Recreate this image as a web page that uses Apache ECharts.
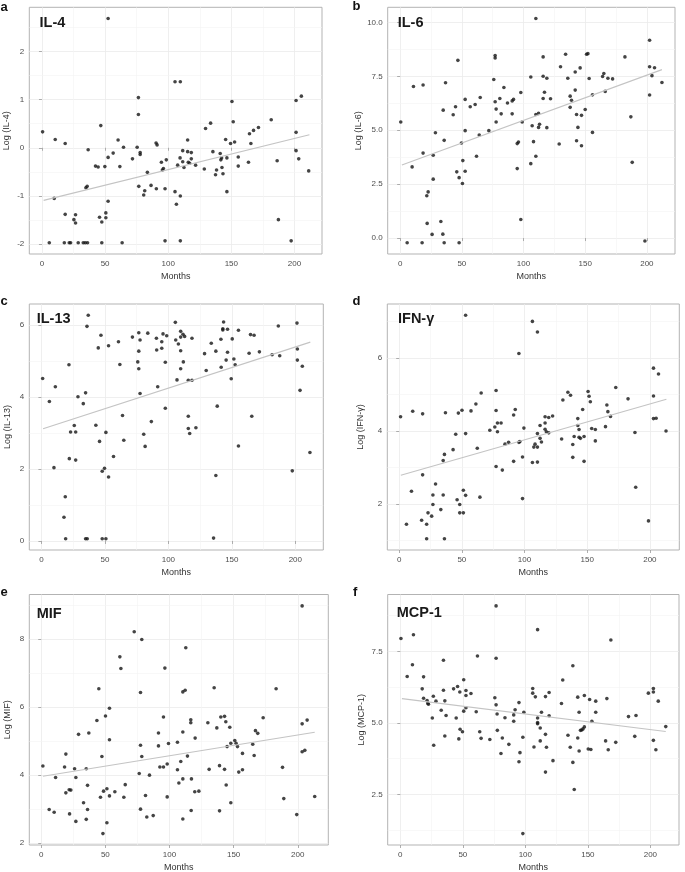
<!DOCTYPE html>
<html><head><meta charset="utf-8">
<script src="https://cdn.jsdelivr.net/npm/echarts@6/dist/echarts.min.js"></script>
<style>html,body{margin:0;padding:0;background:#fff}#c{width:685px;height:872px}</style>
</head><body><div id="c"></div>
<script>
// ---------- data: [months, log value] ----------
const il4Points = [[52.4,2.68],[0.5,0.33],[10.5,0.17],[18.4,0.09],[9.7,-1.05],[5.8,-1.97],[17.7,-1.97],[21.6,-1.97],[22.7,-1.97],[28.7,-1.97],[32.7,-1.97],[34.3,-1.97],[36.1,-1.97],[47.4,-1.97],[63.5,-1.97],[18.4,-1.38],[26.6,-1.39],[25.3,-1.49],[26.6,-1.56],[34.8,-0.83],[35.8,-0.80],[36.6,-0.04],[42.4,-0.38],[44.5,-0.40],[46.6,0.46],[45.6,-1.44],[47.4,-1.54],[50.6,-1.35],[50.6,-1.45],[52.4,-1.11],[49.8,-0.39],[52.4,-0.20],[56.4,-0.11],[60.3,0.16],[61.7,-0.39],[64.6,0.01],[71.7,-0.23],[75.4,0.01],[76.4,1.04],[76.4,0.69],[76.7,-0.80],[77.8,-0.10],[77.8,-0.14],[81.4,-0.89],[80.6,-0.98],[83.5,-0.51],[86.4,-0.78],[90.4,0.10],[91.2,0.06],[90.6,-0.85],[94.6,-0.30],[95.4,-0.46],[96.2,-0.43],[97.5,-0.85],[98.5,-0.25],[97.5,-1.93],[105.4,1.37],[109.6,1.37],[105.4,-0.91],[106.5,-1.17],[109.6,-1.00],[109.6,-1.93],[107.5,-0.36],[109.4,-0.21],[111.5,-0.06],[111.5,-0.29],[112.5,-0.41],[115.4,0.16],[115.4,-0.08],[115.9,-0.30],[117.0,-0.32],[118.3,-0.10],[118.3,-0.23],[121.7,-0.36],[128.6,-0.44],[129.6,0.40],[133.6,0.51],[135.4,-0.08],[137.5,-0.56],[138.3,-0.46],[141.2,-0.12],[141.7,-0.25],[142.3,-0.21],[142.6,-0.41],[143.4,-0.54],[145.5,0.17],[146.5,-0.21],[146.5,-0.91],[149.4,0.09],[150.5,0.96],[151.5,0.54],[152.6,0.12],[155.5,-0.19],[155.5,-0.38],[163.6,-0.30],[164.4,0.29],[165.5,0.09],[167.6,0.36],[171.5,0.42],[181.6,0.58],[186.3,-0.27],[187.3,-1.49],[197.4,-1.93],[201.3,0.98],[201.3,0.32],[201.3,-0.06],[203.4,-0.23],[205.5,1.07],[211.3,-0.48]];

const il6Points = [[0.5,5.38],[5.7,-0.22],[9.7,3.30],[10.8,7.03],[17.8,-0.22],[18.6,7.10],[18.6,3.94],[21.6,1.96],[22.7,2.14],[21.9,0.68],[25.9,0.17],[26.8,2.73],[26.8,3.84],[28.6,4.88],[33.0,0.77],[34.6,0.18],[35.7,-0.22],[34.9,5.93],[35.7,4.53],[36.8,7.20],[43.0,5.72],[44.9,6.09],[45.9,3.07],[46.8,8.24],[47.8,2.80],[47.8,-0.22],[49.7,4.41],[50.5,2.53],[50.8,3.59],[52.7,6.43],[52.7,4.98],[52.7,3.10],[56.8,6.09],[60.8,6.19],[61.9,3.79],[64.1,4.78],[64.9,6.52],[71.9,4.98],[75.9,7.35],[77.0,8.46],[77.0,8.35],[77.0,6.32],[77.8,5.98],[77.8,5.38],[80.8,6.47],[81.9,5.76],[84.1,6.98],[87.0,6.26],[90.8,6.36],[91.9,6.43],[90.8,5.76],[94.9,3.22],[94.9,4.38],[95.9,4.45],[97.8,0.86],[97.8,6.75],[98.9,5.38],[105.9,7.47],[105.9,3.45],[107.0,5.21],[108.1,4.47],[110.0,10.18],[110.0,5.73],[110.0,3.79],[112.2,5.78],[112.2,5.13],[113.0,5.28],[115.9,7.50],[115.9,8.40],[115.9,6.47],[117.0,6.76],[118.9,7.41],[118.9,5.12],[121.9,6.46],[128.9,4.36],[130.0,7.94],[134.1,8.52],[135.9,7.41],[137.8,6.58],[137.8,6.06],[138.9,6.39],[141.9,6.86],[141.9,7.70],[143.0,5.73],[143.0,4.51],[144.1,5.13],[145.9,7.89],[147.0,4.28],[147.0,5.69],[150.0,5.96],[151.1,8.52],[152.2,8.55],[153.2,7.40],[155.9,6.64],[155.9,4.90],[164.1,7.49],[165.1,7.63],[166.2,6.80],[168.4,7.41],[172.2,7.38],[182.2,8.40],[187.0,5.62],[188.1,3.51],[198.4,-0.14],[202.2,9.17],[202.2,7.94],[202.2,6.63],[204.1,7.53],[206.2,7.90],[212.2,7.21]];

const il13Points = [[1.0,4.52],[6.3,3.88],[9.9,2.04],[11.0,4.29],[17.8,0.66],[18.8,1.23],[19.1,0.06],[21.7,4.90],[22.0,2.29],[23.0,3.03],[25.9,3.21],[27.0,3.03],[27.0,2.25],[28.8,4.01],[33.0,3.82],[34.8,4.12],[34.8,0.06],[36.1,0.06],[35.9,5.97],[36.9,6.28],[42.9,3.22],[44.8,5.37],[45.8,2.77],[46.9,5.72],[47.9,1.94],[47.9,0.06],[49.7,2.02],[50.8,3.02],[50.8,0.06],[52.9,5.43],[52.9,1.78],[56.8,2.35],[60.7,5.54],[61.8,4.91],[63.9,3.49],[64.9,2.80],[71.7,5.67],[75.9,4.98],[76.7,5.79],[76.7,5.28],[76.7,4.79],[77.7,5.59],[77.7,4.10],[83.8,5.78],[86.6,3.32],[80.6,2.97],[81.7,2.63],[90.6,5.64],[90.8,5.31],[91.6,4.29],[94.8,5.54],[94.8,5.36],[95.8,5.76],[97.6,3.69],[97.6,4.97],[98.7,5.71],[105.5,6.08],[105.8,5.59],[106.8,4.48],[107.9,5.48],[109.7,5.83],[109.7,5.67],[109.7,5.29],[109.7,4.79],[111.5,5.75],[111.8,4.98],[112.8,5.69],[115.7,4.47],[115.7,3.47],[115.7,3.13],[116.8,2.99],[118.6,5.64],[121.7,3.15],[118.6,4.47],[128.5,5.21],[129.8,4.74],[133.8,5.50],[135.6,0.08],[137.4,5.28],[137.4,1.82],[138.5,3.75],[141.4,5.61],[141.6,4.83],[142.9,5.90],[142.9,5.87],[143.5,6.09],[145.5,5.03],[146.6,5.89],[146.6,5.25],[150.3,5.62],[149.5,4.51],[151.6,5.06],[152.6,4.90],[155.2,5.86],[155.2,2.64],[163.6,5.22],[164.7,5.74],[165.7,3.47],[167.5,5.72],[171.7,5.26],[181.7,5.18],[186.6,5.98],[187.7,5.15],[197.6,1.95],[201.3,6.06],[201.6,5.34],[201.6,5.03],[203.7,4.19],[205.5,4.86],[211.5,2.46]];

const ifngPoints = [[1.1,4.39],[5.8,1.45],[9.8,2.35],[10.8,4.54],[17.9,1.56],[18.7,4.47],[18.7,2.80],[21.9,1.45],[21.9,1.05],[23.0,1.76],[25.9,1.67],[26.9,1.99],[26.9,2.25],[29.0,2.55],[33.2,1.85],[35.1,2.25],[35.1,3.19],[36.1,3.36],[36.1,1.05],[36.9,4.50],[43.0,3.49],[45.1,3.91],[46.2,2.12],[47.2,4.49],[48.3,1.99],[48.3,1.76],[50.1,4.57],[51.2,2.38],[51.2,1.76],[53.0,2.24],[53.0,3.93],[53.0,7.17],[57.3,4.55],[61.2,4.74],[62.3,3.53],[64.4,2.19],[65.4,5.04],[72.3,4.02],[76.3,4.11],[77.3,5.11],[77.3,4.56],[77.3,3.03],[78.4,4.22],[78.4,3.98],[81.3,4.22],[82.3,2.93],[84.4,3.64],[87.3,3.69],[91.3,4.44],[92.6,4.59],[91.3,3.17],[95.5,6.12],[95.5,3.69],[96.3,3.71],[98.4,3.29],[98.4,2.15],[99.5,4.08],[106.3,7.00],[106.3,3.14],[107.4,3.56],[108.4,3.64],[110.3,6.71],[110.3,3.93],[110.3,3.56],[110.3,3.15],[112.4,4.15],[112.4,3.80],[113.5,3.70],[116.4,4.39],[116.4,4.22],[116.4,4.05],[117.4,3.98],[119.3,4.37],[119.3,3.95],[122.4,4.41],[129.6,3.78],[130.6,4.85],[134.6,5.06],[136.7,4.98],[138.5,3.63],[138.5,3.28],[139.6,3.85],[142.5,4.34],[142.5,4.15],[143.5,4.04],[143.5,3.83],[144.6,3.80],[146.4,4.59],[147.5,3.85],[147.5,3.17],[150.7,5.08],[151.5,4.95],[152.5,4.80],[153.6,4.07],[156.5,4.04],[156.5,3.73],[164.6,4.12],[165.7,4.71],[166.5,4.53],[168.6,4.40],[172.8,5.19],[182.6,4.88],[188.1,3.96],[188.7,2.46],[198.9,1.54],[202.9,5.72],[202.9,4.96],[202.9,4.34],[205.0,4.35],[206.9,5.56],[212.9,4.00]];

const mifPoints = [[1.3,4.26],[6.2,2.98],[10.1,2.90],[11.2,3.92],[18.2,4.23],[19.2,4.61],[19.2,3.47],[21.8,3.56],[23.1,3.55],[22.1,2.85],[26.0,4.18],[27.0,3.92],[27.0,2.63],[29.1,5.19],[33.0,3.18],[35.1,4.18],[35.1,2.69],[36.1,3.69],[36.1,2.98],[37.1,5.23],[43.4,5.60],[44.9,6.53],[46.2,3.34],[47.3,4.54],[48.1,2.27],[48.6,3.52],[50.1,5.73],[51.2,3.59],[51.2,2.59],[53.2,5.96],[53.2,5.03],[53.2,3.38],[57.4,3.50],[61.3,7.47],[62.1,7.13],[64.4,3.34],[65.5,3.71],[72.5,8.21],[76.4,4.04],[77.4,6.42],[77.4,4.87],[77.4,2.99],[78.4,7.98],[78.4,4.54],[81.3,3.39],[82.3,2.76],[84.4,3.99],[87.3,2.80],[91.4,5.23],[91.4,4.85],[92.5,4.23],[95.3,5.70],[95.3,4.23],[96.4,7.14],[98.2,4.32],[98.2,3.35],[99.2,4.92],[106.2,4.96],[106.2,4.15],[107.3,3.76],[108.8,4.39],[110.4,6.44],[110.4,5.26],[110.4,3.88],[110.4,2.70],[112.2,6.49],[112.7,7.74],[114.0,4.55],[116.6,5.62],[116.6,5.53],[117.1,3.88],[116.9,2.95],[120.0,5.08],[119.7,3.50],[122.9,3.52],[129.9,5.53],[130.9,4.16],[134.8,6.56],[136.9,5.38],[139.0,4.27],[139.0,2.94],[140.0,5.70],[142.9,5.72],[142.9,4.16],[143.9,5.56],[144.2,3.70],[144.9,4.83],[147.0,5.40],[147.8,4.93],[147.8,3.18],[150.9,5.01],[151.9,4.93],[153.0,4.83],[154.0,4.08],[156.9,4.63],[156.9,4.15],[164.9,4.90],[166.0,4.57],[167.0,5.30],[168.8,5.22],[173.0,5.68],[183.1,6.53],[188.1,4.22],[189.1,3.30],[199.2,2.83],[203.4,8.97],[203.4,5.50],[203.4,4.68],[205.5,4.72],[207.3,5.61],[213.2,3.36]];

const mcp1Points = [[0.5,7.95],[5.5,6.62],[9.7,7.03],[10.5,8.08],[17.5,6.19],[18.6,6.61],[18.6,5.86],[21.4,5.78],[22.0,5.69],[22.5,5.65],[25.6,5.17],[26.7,4.22],[26.4,5.93],[28.5,5.76],[32.7,5.44],[34.5,7.19],[34.5,6.14],[35.6,5.77],[35.6,4.54],[36.6,5.26],[42.6,6.19],[44.7,5.17],[45.8,6.27],[46.8,4.44],[47.6,6.08],[47.8,4.78],[49.7,4.69],[50.7,6.51],[50.7,5.41],[52.5,6.13],[52.5,5.96],[52.5,5.53],[56.5,6.03],[60.7,5.39],[61.7,7.34],[63.5,4.69],[64.6,4.46],[71.6,4.42],[75.6,5.88],[76.6,9.09],[76.6,7.26],[76.6,5.63],[77.4,5.31],[77.6,4.74],[81.6,4.47],[83.7,5.18],[80.5,3.93],[86.8,4.25],[90.7,5.28],[90.7,5.06],[91.8,5.46],[94.9,5.71],[94.9,3.64],[95.7,3.96],[98.0,4.50],[98.8,5.37],[98.0,1.13],[105.9,6.20],[105.9,6.04],[106.9,4.16],[108.0,5.91],[109.8,8.26],[109.8,5.17],[109.8,5.01],[109.8,4.97],[111.9,4.82],[112.9,5.37],[111.9,4.37],[116.1,4.60],[116.1,5.92],[116.9,4.15],[116.1,3.28],[119.0,6.06],[119.0,5.25],[122.1,3.68],[128.9,5.68],[129.9,6.50],[134.1,4.57],[135.9,4.15],[138.0,7.00],[138.0,3.62],[139.1,2.67],[141.9,4.47],[141.9,5.90],[143.0,4.02],[143.0,5.37],[144.1,4.74],[145.1,4.75],[146.1,4.79],[147.2,4.86],[147.2,5.96],[150.3,4.09],[151.4,5.82],[152.4,4.07],[153.2,5.06],[156.3,5.76],[156.3,5.37],[164.2,4.37],[165.2,5.85],[166.3,4.06],[168.4,7.90],[172.3,4.32],[182.5,5.22],[187.5,4.53],[188.5,5.26],[198.4,6.04],[202.4,6.20],[202.4,6.08],[202.4,4.39],[204.4,4.06],[206.3,5.76],[212.3,4.87]];

// fitted trend lines: [[startMonth, startValue], [endMonth, endValue]]
const il4Trend  = [[1.3,-1.09],[211.9,0.27]];
const il6Trend  = [[1.4,3.39],[212.2,7.81]];
const il13Trend = [[1.3,3.12],[211.8,5.53]];
const ifngTrend = [[1.3,2.79],[213.2,4.87]];
const mifTrend  = [[1.3,3.96],[213.2,5.25]];
const mcp1Trend = [[1.3,5.85],[212.3,4.70]];

// tick labels
const monthTicks = [0,50,100,150,200];
const il4Ticks  = [-2,-1,0,1,2];
const il6Ticks  = [0,2.5,5,7.5,10];
const il13Ticks = [0,2,4,6];
const ifngTicks = [2,4,6];
const mifTicks  = [2,4,6,8];
const mcp1Ticks = [2.5,5,7.5];

// ---------- layout ----------
const FONT = "'Liberation Sans', Arial, Helvetica, sans-serif";
const panels = [
  {letter:'a', title:'IL-4',  yName:'Log (IL-4)',  pts:il4Points,  trend:il4Trend,  yTicks:il4Ticks,  dec:0, box:[29.3,7.3,292.7,246.7], nameGap:18,  letterPos:[0.5,7.2],   titlePos:[39.5,23.4]},
  {letter:'b', title:'IL-6',  yName:'Log (IL-6)',  pts:il6Points,  trend:il6Trend,  yTicks:il6Ticks,  dec:1, box:[387.7,7.3,287.3,246.7], nameGap:23.5, letterPos:[352.5,6.5], titlePos:[397.7,23.4]},
  {letter:'c', title:'IL-13', yName:'Log (IL-13)', pts:il13Points, trend:il13Trend, yTicks:il13Ticks, dec:0, box:[29.3,304,294,246], nameGap:17, letterPos:[0.5,301.3],   titlePos:[36.7,319.4]},
  {letter:'d', title:'IFN-γ', yName:'Log (IFN-γ)', pts:ifngPoints, trend:ifngTrend, yTicks:ifngTicks, dec:0, box:[387.3,304,292,246], nameGap:22, letterPos:[352.5,301.3], titlePos:[398,319.4]},
  {letter:'e', title:'MIF',   yName:'Log (MIF)',   pts:mifPoints,  trend:mifTrend,  yTicks:mifTicks,  dec:0, box:[29.3,594.5,299,250.5], nameGap:17, letterPos:[0.5,592.2], titlePos:[36.7,614.2]},
  {letter:'f', title:'MCP-1', yName:'Log (MCP-1)', pts:mcp1Points, trend:mcp1Trend, yTicks:mcp1Ticks, dec:1, box:[387.7,594.5,291.3,250.5], nameGap:22, letterPos:[353,592.2], titlePos:[396.7,613.4]}
];

function expand(vals){ // ggplot-style 5% expansion
  const lo = Math.min(...vals), hi = Math.max(...vals), s = hi - lo;
  return [lo - 0.05*s, hi + 0.05*s];
}
function minors(ticks, range){
  const step = ticks[1]-ticks[0], out=[];
  for (let v = ticks[0]-step/2; v <= ticks[ticks.length-1]+step; v += step){
    if (v > range[0] && v < range[1]) out.push(+v.toFixed(4));
  }
  return out;
}

const grids=[], xAxes=[], yAxes=[], series=[], graphics=[];
const labelStyle = {fontFamily:FONT, fontSize:8, color:'#4d4d4d'};
panels.forEach((p,i)=>{
  grids.push({left:p.box[0], top:p.box[1], width:p.box[2], height:p.box[3], show:true,
    borderColor:'#b3b3b3', borderWidth:1, backgroundColor:'#fff', containLabel:false, outerBoundsMode:'none'});
  const xr = expand(p.pts.map(d=>d[0]));
  const yr = expand(p.pts.map(d=>d[1]));
  xAxes.push({type:'value', gridIndex:i, min:xr[0], max:xr[1],
    name:'Months', nameLocation:'middle', nameGap:18,
    nameTextStyle:{fontFamily:FONT, fontSize:9, color:'#333'},
    axisLine:{show:false},
    axisTick:{show:true, length:3, lineStyle:{color:'#9a9a9a', width:0.8}, customValues:monthTicks},
    axisLabel:Object.assign({customValues:monthTicks, margin:5.5, formatter:v=>String(v)}, labelStyle),
    splitLine:{show:true, lineStyle:{color:'#ebebeb', width:0.8}}
  });
  yAxes.push({type:'value', gridIndex:i, min:yr[0], max:yr[1],
    name:p.yName, nameLocation:'middle', nameGap:p.nameGap, nameRotate:90,
    nameTextStyle:{fontFamily:FONT, fontSize:9, color:'#333'},
    axisLine:{show:false},
    axisTick:{show:true, length:3, lineStyle:{color:'#9a9a9a', width:0.8}, customValues:p.yTicks},
    axisLabel:Object.assign({customValues:p.yTicks, margin:5, formatter:v=>v.toFixed(p.dec)}, labelStyle),
    splitLine:{show:true, lineStyle:{color:'#ebebeb', width:0.8}}
  });
  const mk = minors(monthTicks, xr).map(v=>({xAxis:v})).concat(minors(p.yTicks, yr).map(v=>({yAxis:v})));
  series.push({type:'line', xAxisIndex:i, yAxisIndex:i, data:[], z:1, silent:true,
    markLine:{silent:true, z:1, symbol:['none','none'], label:{show:false}, animation:false,
      lineStyle:{color:'#f3f3f3', width:0.6, type:'solid'}, emphasis:{disabled:true}, data:mk}});
  series.push({type:'scatter', xAxisIndex:i, yAxisIndex:i, data:p.pts, symbolSize:3.6, z:3,
    itemStyle:{color:'#151515'}, silent:true});
  series.push({type:'line', xAxisIndex:i, yAxisIndex:i, data:p.trend, symbol:'none', z:4, silent:true,
    lineStyle:{color:'#c4c4c4', width:1.1}});
  graphics.push({type:'text', x:p.letterPos[0], y:p.letterPos[1], z:100, silent:true,
    style:{text:p.letter, font:'bold 13px '+FONT, fill:'#111', textVerticalAlign:'middle'}});
  graphics.push({type:'text', x:p.titlePos[0], y:p.titlePos[1], z:100, silent:true,
    style:{text:p.title, font:'bold 14.5px '+FONT, fill:'#1a1a1a', textVerticalAlign:'middle'}});
});

const chart = echarts.init(document.getElementById('c'), null, {renderer:'canvas'});
chart.setOption({animation:false, backgroundColor:'#fff', grid:grids, xAxis:xAxes, yAxis:yAxes, series:series, graphic:graphics});
</script></body></html>
